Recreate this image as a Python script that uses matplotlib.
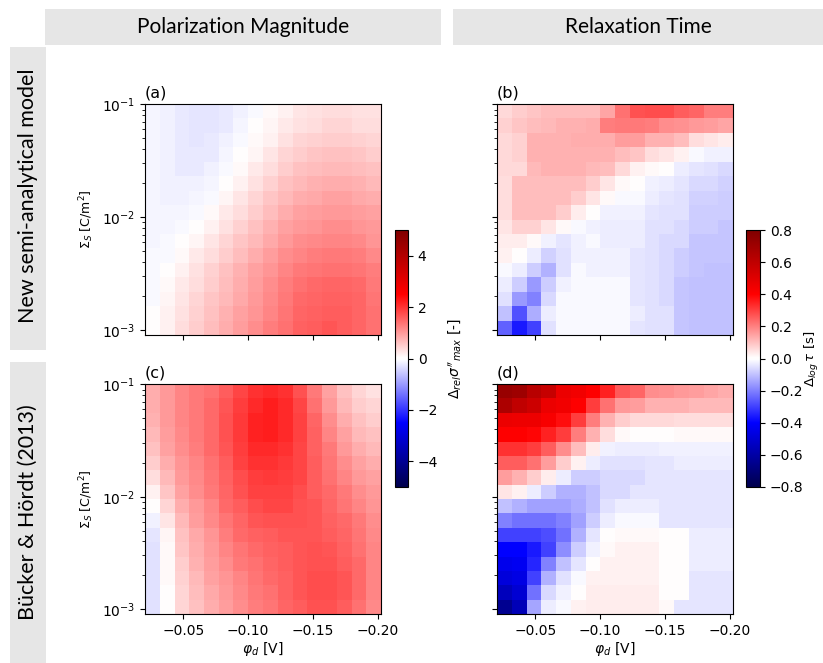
import numpy as np
import matplotlib.pyplot as plt
from matplotlib.patches import Rectangle

W, H = 823, 663

# grid: cell centres (rows are listed from top = high Sigma_S to bottom)
phi_d = np.linspace(-0.026, -0.197, 16)
log_sigma = np.linspace(-1.06, -2.98, 16)

# (a) new model, relative deviation of sigma''_max
pol_new = [
    [-0.1, -0.15, -0.2, -0.25, -0.25, -0.2, -0.15, -0.05, 0.05, 0.15, 0.25, 0.3, 0.35, 0.35, 0.3, 0.3],
    [-0.1, -0.15, -0.2, -0.25, -0.25, -0.2, -0.1, 0.0, 0.1, 0.2, 0.3, 0.35, 0.4, 0.4, 0.35, 0.35],
    [-0.1, -0.15, -0.2, -0.25, -0.2, -0.15, -0.05, 0.05, 0.15, 0.3, 0.4, 0.45, 0.5, 0.5, 0.45, 0.4],
    [-0.1, -0.15, -0.2, -0.2, -0.2, -0.1, 0.0, 0.1, 0.25, 0.4, 0.5, 0.55, 0.6, 0.6, 0.55, 0.5],
    [-0.1, -0.15, -0.2, -0.2, -0.15, -0.05, 0.05, 0.2, 0.35, 0.5, 0.6, 0.65, 0.7, 0.7, 0.65, 0.6],
    [-0.1, -0.15, -0.15, -0.15, -0.1, 0.0, 0.15, 0.3, 0.45, 0.6, 0.7, 0.75, 0.8, 0.8, 0.75, 0.7],
    [-0.1, -0.15, -0.15, -0.1, -0.05, 0.1, 0.25, 0.4, 0.55, 0.7, 0.8, 0.85, 0.9, 0.9, 0.85, 0.8],
    [-0.1, -0.1, -0.1, -0.05, 0.05, 0.2, 0.35, 0.5, 0.65, 0.8, 0.9, 0.95, 1.0, 1.0, 0.95, 0.9],
    [-0.1, -0.1, -0.05, 0.0, 0.15, 0.3, 0.45, 0.6, 0.75, 0.9, 1.0, 1.05, 1.1, 1.1, 1.05, 1.0],
    [-0.1, -0.05, 0.0, 0.1, 0.25, 0.4, 0.55, 0.7, 0.85, 1.0, 1.1, 1.15, 1.2, 1.2, 1.15, 1.05],
    [-0.05, -0.05, 0.05, 0.2, 0.35, 0.5, 0.65, 0.8, 0.95, 1.1, 1.2, 1.25, 1.3, 1.3, 1.25, 1.15],
    [-0.05, 0.0, 0.15, 0.3, 0.45, 0.6, 0.75, 0.9, 1.05, 1.2, 1.3, 1.35, 1.4, 1.4, 1.35, 1.25],
    [-0.05, 0.05, 0.2, 0.35, 0.5, 0.65, 0.8, 0.95, 1.1, 1.25, 1.4, 1.45, 1.5, 1.5, 1.45, 1.3],
    [-0.05, 0.1, 0.25, 0.4, 0.55, 0.7, 0.85, 1.0, 1.15, 1.3, 1.45, 1.5, 1.55, 1.55, 1.5, 1.35],
    [0.0, 0.15, 0.3, 0.45, 0.6, 0.75, 0.9, 1.05, 1.2, 1.35, 1.5, 1.55, 1.6, 1.6, 1.5, 1.4],
    [0.0, 0.15, 0.35, 0.5, 0.65, 0.8, 0.95, 1.1, 1.25, 1.4, 1.55, 1.6, 1.65, 1.6, 1.5, 1.4],
]

# (b) new model, log deviation of tau
tau_new = [
    [0.06, 0.08, 0.09, 0.1, 0.1, 0.1, 0.1, 0.14, 0.22, 0.27, 0.28, 0.28, 0.25, 0.24, 0.2, 0.2],
    [0.07, 0.09, 0.1, 0.11, 0.12, 0.12, 0.13, 0.2, 0.21, 0.21, 0.2, 0.18, 0.17, 0.16, 0.15, 0.14],
    [0.06, 0.07, 0.12, 0.12, 0.12, 0.13, 0.13, 0.13, 0.15, 0.15, 0.12, 0.12, 0.1, 0.05, 0.04, 0.03],
    [0.06, 0.07, 0.12, 0.12, 0.12, 0.12, 0.12, 0.12, 0.1, 0.09, 0.05, 0.04, 0.02, -0.01, -0.02, -0.02],
    [0.06, 0.06, 0.11, 0.12, 0.12, 0.12, 0.11, 0.1, 0.06, 0.02, 0.01, 0.0, -0.03, -0.04, -0.05, -0.06],
    [0.05, 0.1, 0.1, 0.1, 0.1, 0.1, 0.08, 0.04, 0.01, 0.0, -0.02, -0.03, -0.04, -0.06, -0.06, -0.07],
    [0.05, 0.1, 0.1, 0.1, 0.1, 0.08, 0.04, 0.01, -0.01, -0.01, -0.03, -0.04, -0.05, -0.07, -0.07, -0.08],
    [0.05, 0.1, 0.1, 0.1, 0.08, 0.03, 0.0, -0.02, -0.02, -0.02, -0.04, -0.05, -0.05, -0.08, -0.08, -0.08],
    [0.04, 0.07, 0.07, 0.04, 0.01, -0.01, -0.02, -0.03, -0.03, -0.03, -0.05, -0.05, -0.06, -0.08, -0.08, -0.09],
    [0.03, 0.03, 0.01, -0.02, -0.04, -0.02, -0.01, -0.03, -0.03, -0.03, -0.05, -0.06, -0.06, -0.09, -0.09, -0.09],
    [0.02, 0.0, -0.03, -0.07, -0.05, -0.02, -0.02, -0.02, -0.02, -0.04, -0.05, -0.06, -0.08, -0.09, -0.09, -0.09],
    [-0.01, -0.03, -0.08, -0.12, -0.05, -0.01, -0.02, -0.02, -0.02, -0.04, -0.05, -0.06, -0.08, -0.09, -0.1, -0.1],
    [-0.03, -0.08, -0.16, -0.08, -0.02, -0.01, -0.01, -0.01, -0.01, -0.04, -0.05, -0.06, -0.09, -0.1, -0.1, -0.1],
    [-0.05, -0.16, -0.2, -0.06, -0.01, -0.01, -0.01, -0.01, -0.01, -0.04, -0.05, -0.06, -0.09, -0.1, -0.1, -0.1],
    [-0.1, -0.27, -0.13, -0.03, -0.01, -0.01, -0.01, -0.01, -0.01, -0.03, -0.05, -0.05, -0.09, -0.1, -0.1, -0.1],
    [-0.25, -0.36, -0.3, -0.05, -0.01, -0.01, -0.01, -0.01, -0.01, -0.04, -0.05, -0.05, -0.09, -0.1, -0.1, -0.1],
]

# (c) Buecker & Hoerdt (2013), relative deviation of sigma''_max
pol_bh = [
    [0.8, 1.0, 1.2, 1.3, 1.4, 1.6, 1.8, 2.0, 2.1, 2.0, 1.7, 1.3, 0.9, 0.6, 0.4, 0.3],
    [0.8, 1.0, 1.2, 1.3, 1.45, 1.65, 1.9, 2.1, 2.2, 2.1, 1.8, 1.4, 1.0, 0.7, 0.5, 0.4],
    [0.75, 1.0, 1.2, 1.3, 1.45, 1.7, 1.95, 2.15, 2.2, 2.1, 1.85, 1.5, 1.1, 0.8, 0.6, 0.5],
    [0.7, 0.95, 1.15, 1.3, 1.45, 1.7, 1.95, 2.15, 2.2, 2.1, 1.85, 1.55, 1.2, 0.9, 0.7, 0.6],
    [0.6, 0.9, 1.1, 1.25, 1.45, 1.65, 1.9, 2.1, 2.1, 2.0, 1.8, 1.55, 1.3, 1.0, 0.8, 0.7],
    [0.5, 0.8, 1.05, 1.2, 1.4, 1.6, 1.85, 2.0, 2.0, 1.95, 1.8, 1.6, 1.35, 1.1, 0.9, 0.8],
    [0.35, 0.7, 1.0, 1.15, 1.35, 1.55, 1.75, 1.9, 1.95, 1.9, 1.8, 1.6, 1.4, 1.2, 1.0, 0.9],
    [0.15, 0.55, 0.9, 1.1, 1.3, 1.5, 1.7, 1.85, 1.85, 1.85, 1.75, 1.6, 1.45, 1.3, 1.1, 1.0],
    [0.0, 0.4, 0.8, 1.0, 1.2, 1.45, 1.6, 1.75, 1.8, 1.8, 1.7, 1.65, 1.5, 1.35, 1.2, 1.05],
    [-0.15, 0.25, 0.7, 0.95, 1.15, 1.35, 1.5, 1.65, 1.7, 1.7, 1.7, 1.65, 1.55, 1.45, 1.3, 1.1],
    [-0.25, 0.1, 0.6, 0.85, 1.05, 1.25, 1.45, 1.55, 1.6, 1.65, 1.65, 1.65, 1.6, 1.5, 1.35, 1.15],
    [-0.3, 0.05, 0.55, 0.8, 1.0, 1.2, 1.35, 1.45, 1.55, 1.6, 1.65, 1.7, 1.65, 1.55, 1.4, 1.2],
    [-0.3, 0.05, 0.5, 0.75, 0.95, 1.1, 1.3, 1.4, 1.5, 1.6, 1.65, 1.7, 1.7, 1.6, 1.45, 1.2],
    [-0.3, 0.05, 0.45, 0.7, 0.9, 1.05, 1.2, 1.35, 1.45, 1.55, 1.65, 1.75, 1.75, 1.65, 1.45, 1.2],
    [-0.3, 0.0, 0.4, 0.65, 0.85, 1.0, 1.15, 1.3, 1.4, 1.55, 1.65, 1.75, 1.75, 1.65, 1.45, 1.2],
    [-0.3, 0.0, 0.4, 0.6, 0.8, 0.95, 1.1, 1.25, 1.35, 1.5, 1.6, 1.7, 1.7, 1.6, 1.4, 1.15],
]

# (d) Buecker & Hoerdt (2013), log deviation of tau
tau_bh = [
    [0.72, 0.7, 0.62, 0.58, 0.46, 0.44, 0.4, 0.35, 0.26, 0.24, 0.18, 0.17, 0.16, 0.15, 0.14, 0.13],
    [0.66, 0.6, 0.56, 0.46, 0.44, 0.4, 0.3, 0.22, 0.16, 0.15, 0.12, 0.12, 0.12, 0.11, 0.11, 0.11],
    [0.46, 0.45, 0.45, 0.42, 0.38, 0.3, 0.2, 0.12, 0.08, 0.06, 0.06, 0.06, 0.05, 0.05, 0.05, 0.05],
    [0.4, 0.4, 0.39, 0.35, 0.3, 0.2, 0.12, 0.05, 0.01, 0.0, 0.0, 0.0, 0.01, 0.01, 0.01, 0.01],
    [0.32, 0.32, 0.3, 0.25, 0.18, 0.1, 0.03, -0.02, -0.03, -0.03, -0.03, -0.02, -0.02, -0.02, -0.02, -0.02],
    [0.25, 0.25, 0.22, 0.15, 0.08, 0.02, -0.03, -0.05, -0.05, -0.05, -0.04, -0.04, -0.03, -0.03, -0.03, -0.03],
    [0.15, 0.12, 0.08, 0.03, -0.03, -0.08, -0.08, -0.06, -0.06, -0.06, -0.04, -0.04, -0.04, -0.04, -0.04, -0.04],
    [0.04, 0.02, -0.03, -0.08, -0.12, -0.12, -0.1, -0.06, -0.06, -0.04, -0.04, -0.04, -0.04, -0.04, -0.04, -0.04],
    [-0.1, -0.12, -0.15, -0.15, -0.15, -0.13, -0.1, -0.05, -0.03, -0.03, -0.03, -0.04, -0.04, -0.04, -0.04, -0.04],
    [-0.2, -0.22, -0.22, -0.22, -0.2, -0.15, -0.08, -0.03, -0.01, -0.01, -0.01, -0.04, -0.04, -0.04, -0.04, -0.04],
    [-0.3, -0.3, -0.3, -0.28, -0.22, -0.12, -0.04, 0.0, 0.01, 0.01, 0.01, 0.0, 0.0, -0.03, -0.03, -0.03],
    [-0.4, -0.4, -0.36, -0.3, -0.18, -0.08, -0.02, 0.01, 0.02, 0.02, 0.02, 0.0, 0.0, -0.03, -0.03, -0.03],
    [-0.44, -0.43, -0.34, -0.2, -0.1, -0.04, 0.0, 0.02, 0.02, 0.02, 0.02, 0.0, 0.0, -0.03, -0.03, -0.03],
    [-0.48, -0.46, -0.3, -0.12, -0.05, -0.01, 0.02, 0.02, 0.02, 0.02, 0.02, 0.0, 0.0, -0.04, -0.04, -0.04],
    [-0.55, -0.5, -0.22, -0.06, -0.02, 0.0, 0.03, 0.03, 0.03, 0.03, 0.03, 0.0, 0.0, -0.04, -0.04, -0.04],
    [-0.65, -0.56, -0.14, -0.03, -0.01, 0.02, 0.03, 0.03, 0.03, 0.03, 0.03, 0.01, -0.04, -0.04, -0.04, -0.04],
]

col_titles = ["Polarization Magnitude", "Relaxation Time"]
row_titles = ["New semi-analytical model", "Bücker & Hördt (2013)"]
panel_tags = ["(a)", "(b)", "(c)", "(d)"]
pol_ticks = [-4, -2, 0, 2, 4]
tau_ticks = [-0.8, -0.6, -0.4, -0.2, 0.0, 0.2, 0.4, 0.6, 0.8]


def centres_to_edges(c):
    c = np.asarray(c, dtype=float)
    mid = (c[:-1] + c[1:]) / 2
    return np.concatenate([[2 * c[0] - mid[0]], mid, [2 * c[-1] - mid[-1]]])


x_edges = centres_to_edges(phi_d)
y_edges = 10 ** centres_to_edges(log_sigma)

fig = plt.figure(figsize=(W / 100, H / 100), dpi=100)


def px_axes(x0, y0, x1, y1):
    return fig.add_axes([x0 / W, 1 - y1 / H, (x1 - x0) / W, (y1 - y0) / H])


def px_box(x0, y0, x1, y1):
    fig.add_artist(Rectangle((x0 / W, 1 - y1 / H), (x1 - x0) / W, (y1 - y0) / H,
                             transform=fig.transFigure, facecolor="#e6e6e6",
                             edgecolor="none", zorder=0))


# header boxes
px_box(45, 9, 441, 45)
px_box(453, 9, 823, 45)
fig.text(243 / W, 1 - 27 / H, col_titles[0], ha="center", va="center",
         fontsize=15, family="Lato")
fig.text(638 / W, 1 - 27 / H, col_titles[1], ha="center", va="center",
         fontsize=15, family="Lato")
px_box(10, 47, 46, 350)
px_box(10, 362, 46, 663)
fig.text(28 / W, 1 - 196 / H, row_titles[0], ha="center", va="center",
         rotation=90, fontsize=15.5, family="Lato")
fig.text(28 / W, 1 - 512 / H, row_titles[1], ha="center", va="center",
         rotation=90, fontsize=15.5, family="Lato")

boxes = [(145, 104, 381, 335), (497, 104, 733, 335),
         (145, 384, 381, 614), (497, 384, 733, 614)]
fields = [pol_new, tau_new, pol_bh, tau_bh]
limits = [5, 0.8, 5, 0.8]

meshes = []
for k, (box, z, lim) in enumerate(zip(boxes, fields, limits)):
    ax = px_axes(*box)
    m = ax.pcolormesh(x_edges, y_edges, np.array(z), cmap="seismic",
                      vmin=-lim, vmax=lim)
    meshes.append(m)
    ax.set_yscale("log")
    ax.set_xlim(x_edges[0], x_edges[-1])
    ax.set_ylim(y_edges[-1], y_edges[0])
    ax.set_xticks([-0.05, -0.10, -0.15, -0.20])
    ax.tick_params(labelsize=10)
    ax.text(0.0, 1.015, panel_tags[k], transform=ax.transAxes, fontsize=11.5,
            ha="left", va="bottom")
    if k < 2:
        ax.set_xticklabels([])
    else:
        ax.set_xlabel(r"$\varphi_d$ [V]", fontsize=10, labelpad=2)
    if k % 2 == 0:
        ax.set_ylabel(r"$\Sigma_S$ [C/m$^2$]", fontsize=9, labelpad=4)
    else:
        ax.set_yticklabels([], minor=False)
        ax.set_yticklabels([], minor=True)

cax1 = px_axes(395, 230, 408, 487)
cb1 = fig.colorbar(meshes[0], cax=cax1, ticks=pol_ticks)
cb1.ax.tick_params(labelsize=10)
cb1.set_label(r"$\Delta_{rel}\sigma''_{max}$ [-]", fontsize=10, labelpad=6)

cax2 = px_axes(746, 230, 760, 487)
cb2 = fig.colorbar(meshes[1], cax=cax2, ticks=tau_ticks)
cb2.ax.tick_params(labelsize=10)
cb2.set_label(r"$\Delta_{log}\,\tau$ [s]", fontsize=9.5, labelpad=0)

fig.savefig("out.png", dpi=100)
